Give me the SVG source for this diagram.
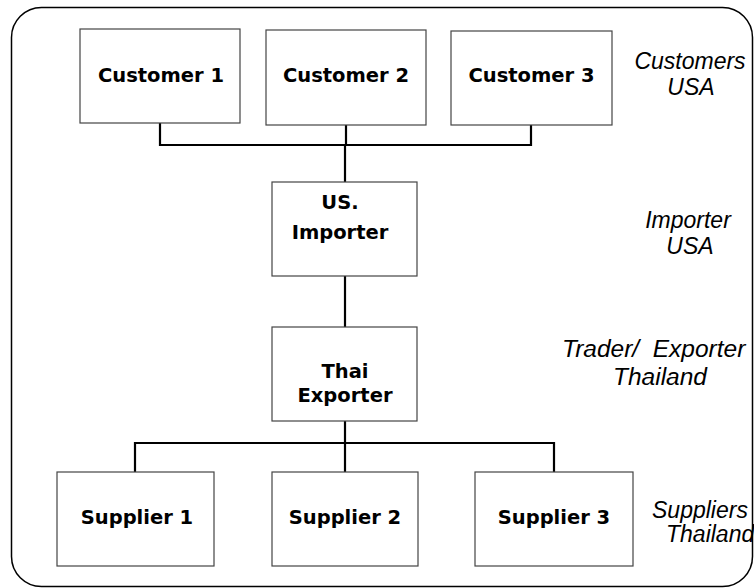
<svg xmlns="http://www.w3.org/2000/svg" width="754" height="588" viewBox="0 0 754 588">
<style>
.box{fill:#fff;stroke:#444;stroke-width:1.2}
.lbl{font-family:"DejaVu Sans",Verdana,sans-serif;font-weight:bold;font-size:19.5px;fill:#000;text-anchor:middle}
.side{font-family:"Liberation Sans",Arial,sans-serif;font-style:italic;font-size:23px;fill:#000;white-space:pre}
.big{font-size:24.5px}
.con{fill:none;stroke:#000;stroke-width:2.2}
</style>
<rect x="11.5" y="7.5" width="741" height="579" rx="30" fill="#fff" stroke="#000" stroke-width="1.5"/>
<g id="connectors">
<polyline class="con" points="160,123 160,145 531,145 531,125"/>
<line class="con" x1="346" y1="125" x2="346" y2="145"/>
<line class="con" x1="345" y1="145" x2="345" y2="182"/>
<line class="con" x1="345" y1="276" x2="345" y2="327"/>
<line class="con" x1="345" y1="421" x2="345" y2="472"/>
<polyline class="con" points="135,472 135,443 554,443 554,472"/>
</g>
<g id="customer1"><rect class="box" x="80" y="29" width="160" height="94"/><text class="lbl" x="161" y="82">Customer 1</text></g>
<g id="customer2"><rect class="box" x="266" y="30" width="160" height="95"/><text class="lbl" x="346" y="82">Customer 2</text></g>
<g id="customer3"><rect class="box" x="451" y="31" width="161" height="94"/><text class="lbl" x="531.5" y="82">Customer 3</text></g>
<g id="importer"><rect class="box" x="272" y="182" width="145" height="94"/><text class="lbl" x="340" y="209">US.</text><text class="lbl" x="340" y="239">Importer</text></g>
<g id="exporter"><rect class="box" x="272" y="327" width="145" height="94"/><text class="lbl" x="345" y="378">Thai</text><text class="lbl" x="345" y="402">Exporter</text></g>
<g id="supplier1"><rect class="box" x="57" y="472" width="157" height="94"/><text class="lbl" x="137" y="524">Supplier 1</text></g>
<g id="supplier2"><rect class="box" x="272" y="472" width="146" height="94"/><text class="lbl" x="345" y="524">Supplier 2</text></g>
<g id="supplier3"><rect class="box" x="475" y="472" width="158" height="94"/><text class="lbl" x="554" y="524">Supplier 3</text></g>
<g id="side-labels">
<text class="side" x="690" y="69" text-anchor="middle">Customers</text>
<text class="side" x="691" y="95" text-anchor="middle">USA</text>
<text class="side" x="688" y="228" text-anchor="middle">Importer</text>
<text class="side" x="690" y="254" text-anchor="middle">USA</text>
<text class="side big" x="562" y="357">Trader/  Exporter</text>
<text class="side big" x="613" y="385">Thailand</text>
<text class="side" x="652" y="518">Suppliers</text>
<text class="side" x="666" y="542">Thailand</text>
</g>
</svg>
